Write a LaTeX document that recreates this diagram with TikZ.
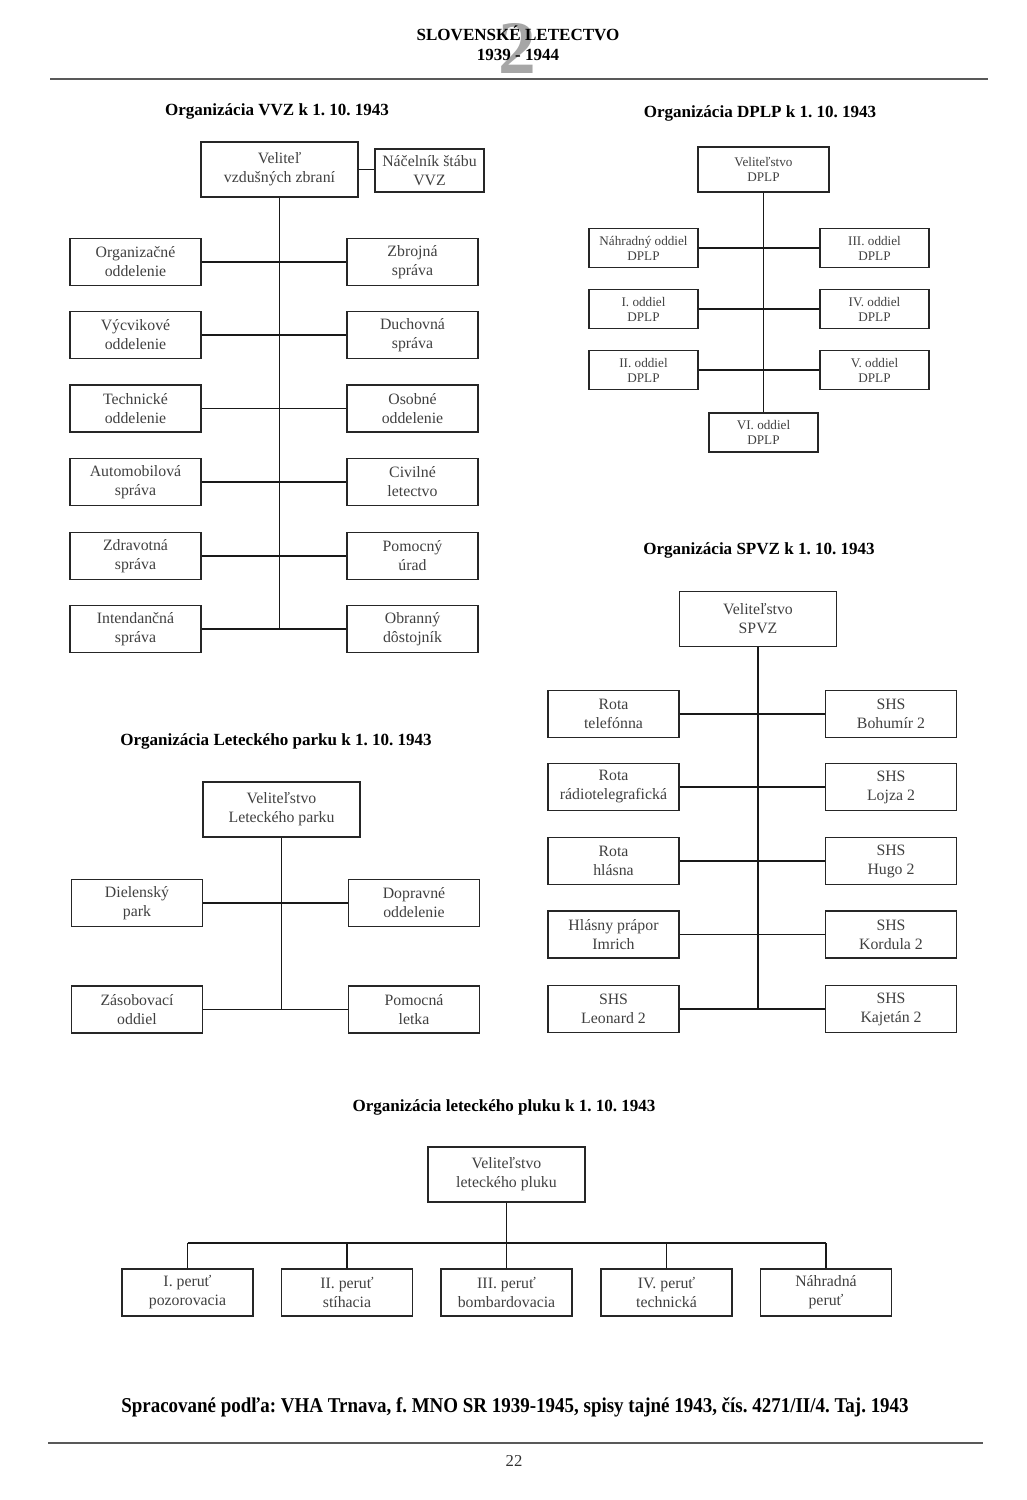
\documentclass[tikz,border=0pt]{standalone}
\usepackage{fontspec}
\setmainfont{Liberation Serif}
\newfontfamily\condfont[FakeStretch=0.9]{Liberation Serif}
\usetikzlibrary{positioning}
\frenchspacing

\tikzset{
  org/.style={draw=black!85, line width=0.9pt, fill=white, align=center, inner sep=1pt,
    text=black!75, font=\fontsize{9}{10.8}\selectfont},
  unitbox/.style={org, minimum width=2.62cm, minimum height=0.94cm},
  headbox/.style={org, minimum width=3.14cm, minimum height=1.1cm},
  smallbox/.style={org, minimum width=2.18cm, minimum height=0.78cm, font=\fontsize{7.5}{8.5}\selectfont},
  smallhead/.style={smallbox, minimum width=2.62cm, minimum height=0.9cm},
  link/.style={line width=0.6pt, black!90},
  rule/.style={line width=1.2pt, black!65},
  charttitle/.style={font=\bfseries\fontsize{9.7}{11.5}\selectfont},
}

\begin{document}
\begin{tikzpicture}[x=0.02cm, y=-0.02cm]
% Page (pixel grid of the scan)
\fill[white] (0,0) rectangle (1027,1500);
% Page head
\node[text=black!35, font=\bfseries\fontsize{43}{43}\selectfont] (headnum) at (517,48) {2};
\node[font=\bfseries\fontsize{9.7}{11.5}\selectfont, align=center] (headtitle) at (518,43) {SLOVENSKÉ LETECTVO\\1939 - 1944};
\coordinate (headruleL) at (50,79);
\coordinate (headruleR) at (988,79);
\draw[rule] (headruleL) -- (headruleR);

% VVZ
\node[charttitle] (vvz-title) at (277,111) {Organizácia VVZ k 1. 10. 1943};
\node[headbox] (vvz-top) at (279.5,169.5) {Veliteľ\\vzdušných zbraní};
\node[org, minimum width=2.18cm, minimum height=0.86cm] (vvz-nac) at (429.5,170.5) {Náčelník štábu\\VVZ};
\draw[link] (vvz-top.east) -- (vvz-top.east -| vvz-nac.west);
\foreach \i/\y/\lt/\rt in {
  1/262/{Organizačné\\oddelenie}/{Zbrojná\\správa},
  2/335/{Výcvikové\\oddelenie}/{Duchovná\\správa},
  3/408.5/{Technické\\oddelenie}/{Osobné\\oddelenie},
  4/482/{Automobilová\\správa}/{Civilné\\letectvo},
  5/556/{Zdravotná\\správa}/{Pomocný\\úrad},
  6/629/{Intendančná\\správa}/{Obranný\\dôstojník}} {
  \node[unitbox] (vvz-l\i) at (135.5,\y) {\lt};
  \node[unitbox] (vvz-r\i) at (412.5,\y) {\rt};
  \draw[link] (vvz-l\i) -- (vvz-r\i);
}
\draw[link] (vvz-top) -- (vvz-top |- vvz-l6);

% DPLP
\node[charttitle] (dplp-title) at (760,113) {Organizácia DPLP k 1. 10. 1943};
\node[smallhead] (dplp-top) at (763.5,169.5) {Veliteľstvo\\DPLP};
\foreach \i/\y/\lt/\rt in {
  1/248/{Náhradný oddiel\\DPLP}/{III. oddiel\\DPLP},
  2/309/{I. oddiel\\DPLP}/{IV. oddiel\\DPLP},
  3/370/{II. oddiel\\DPLP}/{V. oddiel\\DPLP}} {
  \node[smallbox] (dplp-l\i) at (643.5,\y) {\lt};
  \node[smallbox] (dplp-r\i) at (874.5,\y) {\rt};
  \draw[link] (dplp-l\i) -- (dplp-r\i);
}
\node[smallbox] (dplp-vi) at (763.5,432.5) {VI. oddiel\\DPLP};
\draw[link] (dplp-top) -- (dplp-vi);

% Letecky park
\node[charttitle] (park-title) at (276,741) {Organizácia Leteckého parku k 1. 10. 1943};
\node[headbox] (park-top) at (281.5,809.5) {Veliteľstvo\\Leteckého parku};
\foreach \i/\y/\lt/\rt in {
  1/903/{Dielenský\\park}/{Dopravné\\oddelenie},
  2/1009.5/{Zásobovací\\oddiel}/{Pomocná\\letka}} {
  \node[unitbox] (park-l\i) at (137,\y) {\lt};
  \node[unitbox] (park-r\i) at (414,\y) {\rt};
  \draw[link] (park-l\i) -- (park-r\i);
}
\draw[link] (park-top) -- (park-top |- park-l2);

% SPVZ
\node[charttitle] (spvz-title) at (759,550) {Organizácia SPVZ k 1. 10. 1943};
\node[headbox] (spvz-top) at (758,619) {Veliteľstvo\\SPVZ};
\foreach \i/\y/\lt/\rt in {
  1/714/{Rota\\telefónna}/{SHS\\Bohumír 2},
  2/787/{Rota\\rádiotelegrafická}/{SHS\\Lojza 2},
  3/861/{Rota\\hlásna}/{SHS\\Hugo 2},
  4/934.5/{Hlásny prápor\\Imrich}/{SHS\\Kordula 2},
  5/1009/{SHS\\Leonard 2}/{SHS\\Kajetán 2}} {
  \node[unitbox] (spvz-l\i) at (613.5,\y) {\lt};
  \node[unitbox] (spvz-r\i) at (891,\y) {\rt};
  \draw[link] (spvz-l\i) -- (spvz-r\i);
}
\draw[link] (spvz-top) -- (spvz-top |- spvz-l5);

% Letecky pluk
\node[charttitle] (pluk-title) at (504,1107) {Organizácia leteckého pluku k 1. 10. 1943};
\node[headbox] (pluk-top) at (506.5,1174.5) {Veliteľstvo\\leteckého pluku};
\coordinate (pluk-bus) at (506.5,1243);
\foreach \i/\x/\txt in {
  1/187.5/{I. peruť\\pozorovacia},
  2/347/{II. peruť\\stíhacia},
  3/506.5/{III. peruť\\bombardovacia},
  4/666.5/{IV. peruť\\technická},
  5/826/{Náhradná\\peruť}} {
  \node[unitbox] (pluk-p\i) at (\x,1292.5) {\txt};
  \draw[link] (pluk-p\i) -- (pluk-p\i |- pluk-bus);
}
\draw[link] (pluk-top) -- (pluk-bus);
\draw[link] (pluk-p1 |- pluk-bus) -- (pluk-p5 |- pluk-bus);

% Source and page foot
\node[font=\condfont\bfseries\fontsize{12}{14}\selectfont] (source) at (515,1407)
  {Spracované podľa: VHA Trnava, f. MNO SR 1939-1945, spisy tajné 1943, čís. 4271/II/4. Taj. 1943};
\coordinate (footruleL) at (48,1443);
\coordinate (footruleR) at (983,1443);
\draw[rule] (footruleL) -- (footruleR);
\node[font=\fontsize{9.5}{11}\selectfont, text=black!80] (pagenum) at (514,1461) {22};
\end{tikzpicture}
\end{document}
